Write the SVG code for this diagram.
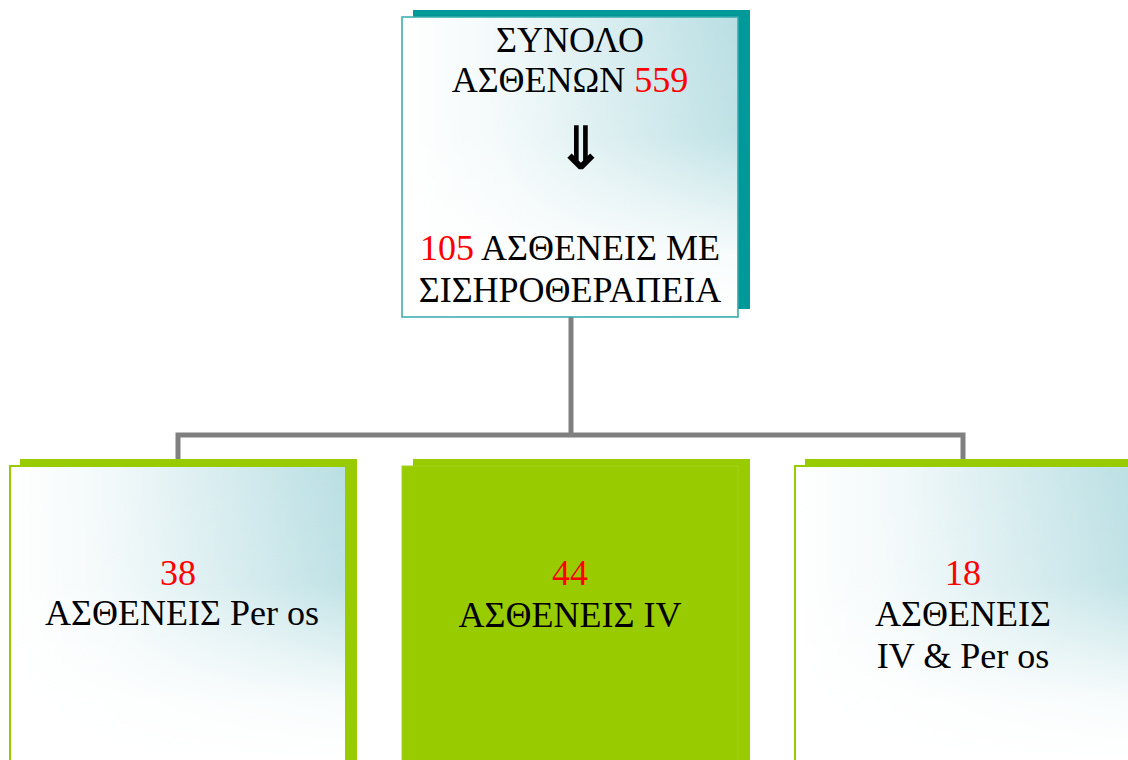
<svg xmlns="http://www.w3.org/2000/svg" width="1128" height="760" viewBox="0 0 1128 760">
  <defs>
    <linearGradient id="gh" x1="0" y1="0" x2="1" y2="0">
      <stop offset="0" stop-color="#ffffff"/>
      <stop offset="0.3" stop-color="#f2f9fa"/>
      <stop offset="0.7" stop-color="#d2eaed"/>
      <stop offset="1" stop-color="#b9dfe3"/>
    </linearGradient>
    <linearGradient id="gv" x1="0" y1="0" x2="0" y2="1">
      <stop offset="0" stop-color="#ffffff" stop-opacity="0"/>
      <stop offset="0.4" stop-color="#ffffff" stop-opacity="0.1"/>
      <stop offset="0.8" stop-color="#ffffff" stop-opacity="0.9"/>
      <stop offset="1" stop-color="#ffffff" stop-opacity="1"/>
    </linearGradient>
    <style>
      .t { font-family: "Liberation Serif", "Times New Roman", serif; font-size: 36px; fill: #000; text-anchor: middle; }
      .r { fill: #ff0000; }
      .conn { stroke: #808080; stroke-width: 5; fill: none; }
      .tealsh { fill: #009999; }
      .greensh { fill: #99cc00; }
      .tealbox { fill: url(#gh); stroke: #33aaaa; stroke-width: 1.5; }
      .greenbox { fill: url(#gh); stroke: #99cc00; stroke-width: 2; }
      .fade { fill: url(#gv); }
    </style>
  </defs>
  <rect width="1128" height="760" fill="#ffffff"/>

  <g id="connectors">
    <line class="conn" x1="571" y1="317" x2="571" y2="435"/>
    <polyline class="conn" points="178,460 178,435 963,435 963,460"/>
  </g>

  <g id="node-top">
    <rect class="tealsh" x="413" y="10" width="337" height="299"/>
    <rect class="tealbox" x="402" y="17" width="336" height="300"/>
    <rect class="fade" x="403" y="18" width="334" height="298"/>
    <text class="t" x="570" y="52">ΣΥΝΟΛΟ</text>
    <text class="t" x="570" y="92">ΑΣΘΕΝΩΝ <tspan class="r">559</tspan></text>
    <text x="581" y="169" style="font-family:'DejaVu Sans',sans-serif;font-size:60px;font-weight:bold;text-anchor:middle;fill:#000">⇓</text>
    <text class="t" x="570" y="260"><tspan class="r">105</tspan> ΑΣΘΕΝΕΙΣ ΜΕ</text>
    <text class="t" x="570" y="302">ΣΙΣΗΡΟΘΕΡΑΠΕΙΑ</text>
  </g>

  <g id="node-peros">
    <rect class="greensh" x="20" y="459" width="337" height="301"/>
    <rect class="greenbox" x="10" y="466" width="336" height="300"/>
    <rect class="fade" x="11" y="467" width="334" height="293"/>
    <text class="t r" x="178" y="585">38</text>
    <text class="t" x="182" y="625">ΑΣΘΕΝΕΙΣ Per os</text>
  </g>

  <g id="node-iv">
    <rect class="greensh" x="413" y="459" width="337" height="301"/>
    <rect x="402" y="466" width="336" height="300" fill="#99cc00" stroke="#a4d11a" stroke-width="1"/>
    <text class="t r" x="570" y="585">44</text>
    <text class="t" x="570" y="627">ΑΣΘΕΝΕΙΣ IV</text>
  </g>

  <g id="node-ivperos">
    <rect class="greensh" x="805" y="459" width="340" height="301"/>
    <rect class="greenbox" x="795" y="466" width="345" height="300"/>
    <rect class="fade" x="796" y="467" width="340" height="293"/>
    <text class="t r" x="963" y="585">18</text>
    <text class="t" x="963" y="626">ΑΣΘΕΝΕΙΣ</text>
    <text class="t" x="963" y="668">IV &amp; Per os</text>
  </g>
</svg>
